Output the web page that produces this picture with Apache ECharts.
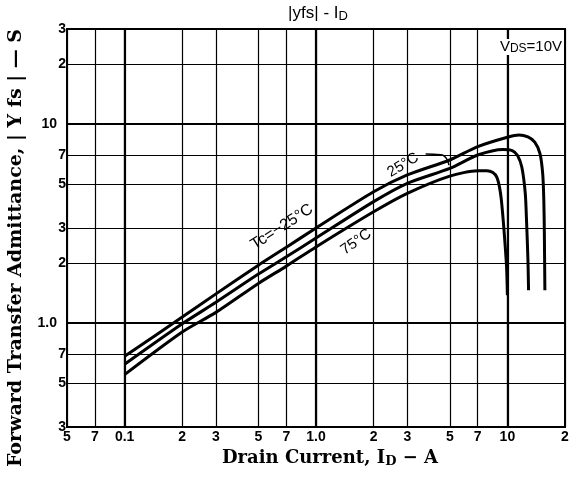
<!DOCTYPE html>
<html><head><meta charset="utf-8">
<script src="https://cdn.jsdelivr.net/npm/echarts@6/dist/echarts.min.js"></script>
<style>html,body{margin:0;padding:0;background:#fff}#c{width:576px;height:477px}</style>
</head><body><div id="c"></div>
<script>
// Axis ticks
const xTicks = [0.05, 0.07, 0.1, 0.2, 0.3, 0.5, 0.7, 1, 2, 3, 5, 7, 10, 20];
const xTickLabels = ['5', '7', '0.1', '2', '3', '5', '7', '1.0', '2', '3', '5', '7', '10', '2'];
const yTicks = [0.3, 0.5, 0.7, 1, 2, 3, 5, 7, 10, 20, 30];
const yTickLabels = ['3', '5', '7', '1.0', '2', '3', '5', '7', '10', '2', '3'];
const xMajor = [0.1, 1, 10];
const yMajor = [1, 10];

// Tc = -25 °C
const idN25  = [0.1, 0.2, 0.3, 0.5, 0.7, 1.0, 2.0, 3.0, 5.0, 7.0, 10, 11.5, 12.8, 13.9, 14.8, 15.3, 15.5, 15.6, 15.7];
const yfsN25 = [0.68, 1.07, 1.40, 1.95, 2.40, 3.0, 4.56, 5.54, 6.59, 7.69, 8.57, 8.8, 8.6, 8.1, 7.1, 5.6, 4.15, 2.83, 1.46];
// Tc = 25 °C
const id25  = [0.1, 0.2, 0.3, 0.5, 0.7, 1.0, 2.0, 3.0, 5.0, 7.0, 9.5, 10.6, 11.3, 11.9, 12.4, 12.6, 12.8, 12.9];
const yfs25 = [0.62, 0.99, 1.27, 1.76, 2.15, 2.67, 4.07, 5.03, 5.98, 6.98, 7.45, 7.35, 6.95, 6.06, 4.48, 3.2, 2.1, 1.46];
// Tc = 75 °C
const id75  = [0.1, 0.2, 0.3, 0.5, 0.7, 1.0, 2.0, 3.0, 5.0, 7.0, 7.8, 8.4, 8.8, 9.1, 9.3, 9.6, 9.9, 10.0];
const yfs75 = [0.55, 0.90, 1.13, 1.58, 1.93, 2.41, 3.62, 4.48, 5.47, 5.82, 5.82, 5.7, 5.4, 4.8, 4.15, 2.93, 1.92, 1.38];
// leader line of the "25°C" label
const leaderX = [3.74, 4.5, 4.95];
const leaderY = [7.06, 7.0, 6.2];

function pairs(xs, ys) { return xs.map((x, i) => [x, ys[i]]); }
function lookup(ticks, labels, v) {
  for (let i = 0; i < ticks.length; i++) {
    if (Math.abs(Math.log10(v) - Math.log10(ticks[i])) < 1e-6) return labels[i];
  }
  return '';
}

const chart = echarts.init(document.getElementById('c'), null, {renderer: 'canvas'});
const curveStyle = {color: '#000', width: 3};
const labelFont = 'Liberation Sans, Arial, sans-serif';
const serif = 'DejaVu Serif, serif';

const option = {
  backgroundColor: '#fff',
  animation: false,
  grid: {left: 67, top: 29, width: 498, height: 398, show: true, borderColor: '#000', borderWidth: 2, backgroundColor: 'transparent'},
  xAxis: [{
    type: 'log', min: 0.05, max: 20, logBase: 10,
    axisLine: {show: true, lineStyle: {color: '#000', width: 2}},
    axisTick: {show: false, customValues: xTicks},
    axisLabel: {customValues: xTicks, color: '#000', fontFamily: labelFont, fontWeight: 'bold', fontSize: 14, margin: 3,
      formatter: v => lookup(xTicks, xTickLabels, v)},
    splitLine: {show: true, lineStyle: {color: '#000', width: 1.2}},
    name: 'Drain Current, I{s|D} − A', nameLocation: 'middle', nameGap: 19,
    nameTextStyle: {color: '#000', fontFamily: serif, fontWeight: 'bold', fontSize: 18, padding: [0, 0, 0, 28],
      rich: {s: {fontFamily: serif, fontWeight: 'bold', fontSize: 13, verticalAlign: 'bottom', padding: [7, 0, 0, 0]}}}
  }, {
    type: 'log', min: 0.05, max: 20, logBase: 10, position: 'bottom',
    axisLine: {show: false}, axisTick: {show: false, customValues: xMajor},
    axisLabel: {show: false, customValues: xMajor},
    splitLine: {show: true, lineStyle: {color: '#000', width: 2.2}}
  }],
  yAxis: [{
    type: 'log', min: 0.3, max: 30, logBase: 10,
    axisLine: {show: true, lineStyle: {color: '#000', width: 2}},
    axisTick: {show: false, customValues: yTicks},
    axisLabel: {customValues: yTicks, color: '#000', fontFamily: labelFont, fontWeight: 'bold', fontSize: 14, margin: 1,
      formatter: v => { const s = lookup(yTicks, yTickLabels, v); return (s === '10' || s === '1.0') ? '{w|' + s + '}' : s; },
      rich: {w: {fontFamily: labelFont, fontWeight: 'bold', fontSize: 14, color: '#000', padding: [0, 9, 0, 0]}}},
    splitLine: {show: true, lineStyle: {color: '#000', width: 1.2}}
  }, {
    type: 'log', min: 0.3, max: 30, logBase: 10, position: 'left',
    axisLine: {show: false}, axisTick: {show: false, customValues: yMajor},
    axisLabel: {show: false, customValues: yMajor},
    splitLine: {show: true, lineStyle: {color: '#000', width: 2.2}}
  }],
  series: [
    {name: 'Tc=-25°C', type: 'line', data: pairs(idN25, yfsN25), showSymbol: false, smooth: 0.25, lineStyle: curveStyle, z: 5},
    {name: '25°C', type: 'line', data: pairs(id25, yfs25), showSymbol: false, smooth: 0.25, lineStyle: curveStyle, z: 5},
    {name: '75°C', type: 'line', data: pairs(id75, yfs75), showSymbol: false, smooth: 0.25, lineStyle: curveStyle, z: 5},
    {name: 'leader', type: 'line', data: pairs(leaderX, leaderY), showSymbol: false, smooth: 0.6, lineStyle: {color: '#000', width: 1.5}, z: 5}
  ],
  graphic: [
    {type: 'text', x: 318, y: 13, style: {text: '|yfs| - I{s|D}', fill: '#000', font: '17px ' + labelFont, align: 'center', verticalAlign: 'middle',
      rich: {s: {fontSize: 13, fontFamily: labelFont, padding: [6, 0, 0, 0]}}}},
    {type: 'text', x: 16, y: 248, rotation: Math.PI / 2, style: {text: 'Forward Transfer Admittance, | Y fs | — S', fill: '#000',
      font: 'bold 19px ' + serif, align: 'center', verticalAlign: 'middle'}},
    {type: 'text', x: 562, y: 47, z: 10, style: {text: 'V{s|DS}=10V', fill: '#000', font: '15px ' + labelFont, align: 'right', verticalAlign: 'middle',
      backgroundColor: '#fff', rich: {s: {fontSize: 12, fontFamily: labelFont, padding: [4, 0, 0, 0]}}}},
    {type: 'text', x: 282, y: 227, rotation: 33 * Math.PI / 180, z: 10, style: {text: 'Tc=−25°C', fill: '#000', font: '16px ' + labelFont, align: 'center', verticalAlign: 'middle'}},
    {type: 'text', x: 403, y: 165, rotation: 31 * Math.PI / 180, z: 10, style: {text: '25°C', fill: '#000', font: '15px ' + labelFont, align: 'center', verticalAlign: 'middle'}},
    {type: 'text', x: 356, y: 242, rotation: 35 * Math.PI / 180, z: 10, style: {text: '75°C', fill: '#000', font: '15px ' + labelFont, align: 'center', verticalAlign: 'middle'}}
  ]
};
chart.setOption(option);
</script>
</body></html>
